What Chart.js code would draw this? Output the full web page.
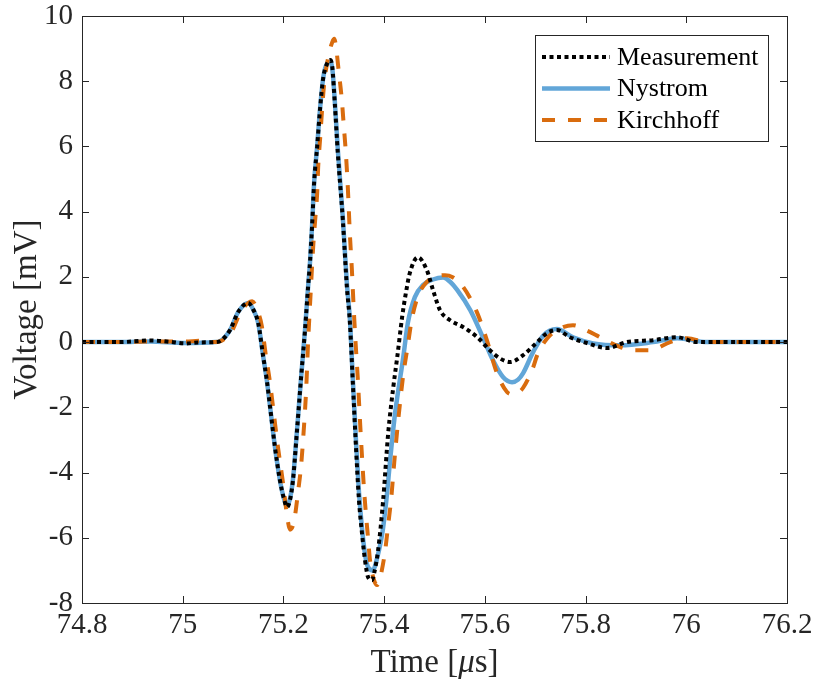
<!DOCTYPE html>
<html>
<head>
<meta charset="utf-8">
<script src="https://cdn.jsdelivr.net/npm/chart.js@4.4.1/dist/chart.umd.min.js"></script>
<style>
  html, body { margin: 0; padding: 0; background: #fff; }
</style>
</head>
<body>
<canvas id="voltChart" width="817" height="686"></canvas>
<script>
// Measured and simulated voltage traces (time in microseconds, voltage in mV)
const measTime = [74.8, 74.875, 74.935, 74.975, 75.005, 75.034, 75.064, 75.074, 75.094, 75.11, 75.13, 75.14, 75.15, 75.16, 75.167, 75.175, 75.183, 75.193, 75.201, 75.207, 75.213, 75.219, 75.227, 75.235, 75.243, 75.249, 75.253, 75.257, 75.261, 75.267, 75.273, 75.279, 75.287, 75.293, 75.297, 75.302, 75.308, 75.318, 75.326, 75.332, 75.338, 75.344, 75.35, 75.356, 75.362, 75.368, 75.376, 75.38, 75.388, 75.398, 75.408, 75.418, 75.426, 75.436, 75.442, 75.451, 75.467, 75.485, 75.497, 75.511, 75.531, 75.557, 75.585, 75.61, 75.63, 75.65, 75.676, 75.704, 75.724, 75.743, 75.769, 75.803, 75.843, 75.882, 75.934, 75.982, 76.021, 76.1, 76.2];
const measVolt = [0, 0, 0.05, 0.01, -0.04, -0.01, 0, 0.03, 0.37, 0.92, 1.2, 1.0, 0.58, -0.46, -1.17, -2.18, -3.2, -4.23, -4.8, -5.06, -4.85, -4.23, -2.7, -1.1, 0.4, 1.7, 2.5, 3.6, 4.9, 6.0, 7.2, 8.1, 8.55, 8.65, 8.44, 7.33, 5.8, 3.74, 1.69, 0.6, -1.3, -3.2, -4.85, -5.86, -6.69, -7.2, -7.3, -7.1, -6.38, -4.85, -2.8, -1.4, -0.46, 0.8, 1.4, 2.12, 2.6, 2.2, 1.6, 0.98, 0.67, 0.46, 0.15, -0.25, -0.5, -0.61, -0.4, 0, 0.28, 0.37, 0.15, -0.03, -0.18, 0, 0.06, 0.15, 0, 0, 0];

const nysTime = [74.8, 74.875, 74.935, 75.005, 75.064, 75.074, 75.094, 75.11, 75.13, 75.14, 75.15, 75.16, 75.167, 75.175, 75.183, 75.193, 75.201, 75.207, 75.213, 75.219, 75.227, 75.235, 75.243, 75.249, 75.253, 75.257, 75.261, 75.267, 75.273, 75.279, 75.287, 75.293, 75.297, 75.302, 75.308, 75.318, 75.326, 75.332, 75.338, 75.344, 75.35, 75.356, 75.362, 75.368, 75.378, 75.384, 75.388, 75.396, 75.404, 75.412, 75.42, 75.426, 75.438, 75.447, 75.461, 75.477, 75.497, 75.517, 75.531, 75.545, 75.571, 75.596, 75.616, 75.636, 75.654, 75.666, 75.676, 75.696, 75.716, 75.743, 75.775, 75.815, 75.869, 75.934, 75.982, 76.041, 76.1, 76.2];
const nysVolt = [0, 0, 0.02, -0.03, 0, 0.03, 0.37, 0.92, 1.2, 1.0, 0.58, -0.46, -1.17, -2.18, -3.2, -4.23, -4.8, -5.0, -4.8, -4.2, -2.7, -1.1, 0.4, 1.7, 2.5, 3.6, 4.9, 6.0, 7.2, 8.1, 8.55, 8.6, 8.4, 7.4, 5.9, 3.8, 1.8, 0.7, -1.2, -3.0, -4.6, -5.7, -6.5, -6.9, -7.0, -6.75, -6.5, -5.9, -4.9, -3.6, -2.4, -1.7, -0.46, 0.58, 1.38, 1.75, 1.92, 1.98, 1.85, 1.6, 0.98, 0.15, -0.55, -1.07, -1.23, -1.15, -0.95, -0.3, 0.2, 0.4, 0.15, -0.04, -0.1, 0, 0.12, 0, 0, 0];

const kirTime = [74.8, 74.875, 74.935, 75.005, 75.034, 75.064, 75.078, 75.098, 75.114, 75.13, 75.138, 75.15, 75.157, 75.165, 75.173, 75.181, 75.189, 75.199, 75.207, 75.213, 75.221, 75.229, 75.235, 75.239, 75.245, 75.249, 75.253, 75.259, 75.263, 75.267, 75.269, 75.273, 75.277, 75.281, 75.289, 75.297, 75.301, 75.304, 75.31, 75.316, 75.32, 75.324, 75.328, 75.332, 75.336, 75.34, 75.344, 75.348, 75.352, 75.356, 75.36, 75.364, 75.368, 75.372, 75.38, 75.386, 75.39, 75.394, 75.402, 75.408, 75.414, 75.42, 75.426, 75.432, 75.438, 75.446, 75.455, 75.467, 75.485, 75.505, 75.521, 75.535, 75.557, 75.585, 75.604, 75.624, 75.644, 75.654, 75.666, 75.676, 75.696, 75.704, 75.724, 75.743, 75.775, 75.803, 75.829, 75.869, 75.898, 75.928, 75.968, 76.002, 76.041, 76.1, 76.2];
const kirVolt = [0, 0, 0.02, 0.02, 0.04, 0, 0.05, 0.35, 0.9, 1.2, 1.25, 0.9, 0.5, -0.4, -1.2, -2.2, -3.2, -4.3, -5.3, -5.75, -5.5, -4.6, -3.8, -3.0, -1.5, 0.0, 1.2, 2.9, 3.74, 4.57, 5.37, 6.26, 7.18, 7.94, 8.74, 9.2, 9.3, 9.1, 8.28, 7.42, 6.6, 5.8, 4.7, 3.3, 2.2, 0.9, -0.2, -1.2, -2.4, -3.5, -4.5, -5.3, -6.0, -6.7, -7.3, -7.45, -7.35, -7.1, -6.4, -5.6, -4.8, -3.7, -2.7, -1.8, -1.0, -0.2, 0.7, 1.4, 1.85, 2.02, 2.05, 2.0, 1.69, 0.89, 0.06, -0.95, -1.53, -1.6, -1.55, -1.4, -0.77, -0.4, 0.12, 0.37, 0.52, 0.35, 0.15, -0.15, -0.25, -0.25, 0, 0.12, 0, 0, 0];

const seriesNames = ['Measurement', 'Nystrom', 'Kirchhoff'];
const xRange = [74.8, 76.2];
const yRange = [-8, 10];

const colors = {
  meas: '#000000',
  nys: '#62a6d8',
  kir: '#d96c0e',
  axis: '#262626'
};
const serif = "'Liberation Serif', 'DejaVu Serif', serif";

const toPoints = (ts, vs) => ts.map((t, i) => ({ x: t, y: vs[i] }));

// line styles, shared by the datasets and the hand-drawn legend
const styles = [
  { color: colors.meas, width: 4, dash: [4, 3.5] },
  { color: colors.nys, width: 4.5, dash: [] },
  { color: colors.kir, width: 4, dash: [13, 13] }
];

// MATLAB-like frame: box on all four sides, inward ticks, boxed legend, x title with italic mu
const framePlugin = {
  id: 'frame',
  afterDraw(chart) {
    const { ctx, chartArea: a, scales: { x, y } } = chart;
    const len = 7;
    ctx.save();
    ctx.strokeStyle = colors.axis;
    ctx.lineWidth = 1;
    ctx.strokeRect(a.left + 0.5, a.top + 0.5, a.right - a.left, a.bottom - a.top);
    ctx.beginPath();
    x.ticks.forEach(t => {
      const px = Math.round(x.getPixelForValue(t.value)) + 0.5;
      ctx.moveTo(px, a.bottom); ctx.lineTo(px, a.bottom - len);
      ctx.moveTo(px, a.top); ctx.lineTo(px, a.top + len);
    });
    y.ticks.forEach(t => {
      const py = Math.round(y.getPixelForValue(t.value)) + 0.5;
      ctx.moveTo(a.left, py); ctx.lineTo(a.left + len, py);
      ctx.moveTo(a.right, py); ctx.lineTo(a.right - len, py);
    });
    ctx.stroke();

    // x axis title: "Time [" + italic mu + "s]"
    const parts = [
      { t: 'Time [', f: '33px ' + serif },
      { t: 'μ', f: 'italic 33px ' + serif },
      { t: 's]', f: '33px ' + serif }
    ];
    let total = 0;
    parts.forEach(p => { ctx.font = p.f; p.w = ctx.measureText(p.t).width; total += p.w; });
    let tx = (a.left + a.right) / 2 - total / 2;
    ctx.fillStyle = colors.axis;
    ctx.textBaseline = 'alphabetic';
    parts.forEach(p => { ctx.font = p.f; ctx.fillText(p.t, tx, 672); tx += p.w; });

    // legend
    const box = { x: 535, y: 35, w: 233, h: 106 };
    ctx.fillStyle = '#fff';
    ctx.fillRect(box.x, box.y, box.w, box.h);
    ctx.strokeStyle = colors.axis;
    ctx.lineWidth = 1;
    ctx.strokeRect(box.x + 0.5, box.y + 0.5, box.w, box.h);
    ctx.font = '26px ' + serif;
    ctx.textBaseline = 'middle';
    seriesNames.forEach((name, i) => {
      const cy = 57 + i * 31.5;
      const s = styles[i];
      ctx.beginPath();
      ctx.strokeStyle = s.color;
      ctx.lineWidth = s.width;
      ctx.setLineDash(s.dash);
      ctx.moveTo(542, cy);
      ctx.lineTo(610, cy);
      ctx.stroke();
      ctx.setLineDash([]);
      ctx.fillStyle = '#000';
      ctx.fillText(name, 617, cy + 1);
    });
    ctx.restore();
  }
};

const seriesData = [
  toPoints(measTime, measVolt),
  toPoints(nysTime, nysVolt),
  toPoints(kirTime, kirVolt)
];
// draw order: Nystrom at the bottom, Kirchhoff over it, Measurement on top
const drawOrder = [0, 2, 1];

new Chart(document.getElementById('voltChart'), {
  type: 'line',
  data: {
    datasets: seriesNames.map((name, i) => ({
      label: name,
      data: seriesData[i],
      borderColor: styles[i].color,
      borderWidth: styles[i].width,
      borderDash: styles[i].dash,
      borderCapStyle: 'butt',
      pointRadius: 0,
      fill: false,
      cubicInterpolationMode: 'monotone',
      order: drawOrder[i]
    }))
  },
  options: {
    responsive: false,
    animation: false,
    devicePixelRatio: 1,
    layout: { padding: { left: 0, top: 16, right: 30, bottom: 0 } },
    plugins: {
      legend: { display: false },
      tooltip: { enabled: false }
    },
    scales: {
      x: {
        type: 'linear',
        min: xRange[0],
        max: xRange[1],
        afterFit: s => { s.height = 83; s.paddingLeft = 0; s.paddingRight = 0; },
        grid: { display: false, drawTicks: false },
        border: { display: false },
        ticks: {
          stepSize: 0.2,
          padding: 8,
          color: colors.axis,
          font: { family: serif, size: 29, lineHeight: 1 },
          callback: v => String(+v.toFixed(1))
        },
        title: { display: false }
      },
      y: {
        min: yRange[0],
        max: yRange[1],
        afterFit: s => { s.width = 82; s.paddingTop = 0; s.paddingBottom = 0; },
        grid: { display: false, drawTicks: false },
        border: { display: false },
        ticks: {
          stepSize: 2,
          padding: 9,
          color: colors.axis,
          font: { family: serif, size: 29, lineHeight: 1 },
          callback: v => String(v)
        },
        title: {
          display: true,
          text: 'Voltage [mV]',
          color: colors.axis,
          font: { family: serif, size: 33 },
          padding: { top: 8 }
        }
      }
    }
  },
  plugins: [framePlugin]
});
</script>
</body>
</html>
